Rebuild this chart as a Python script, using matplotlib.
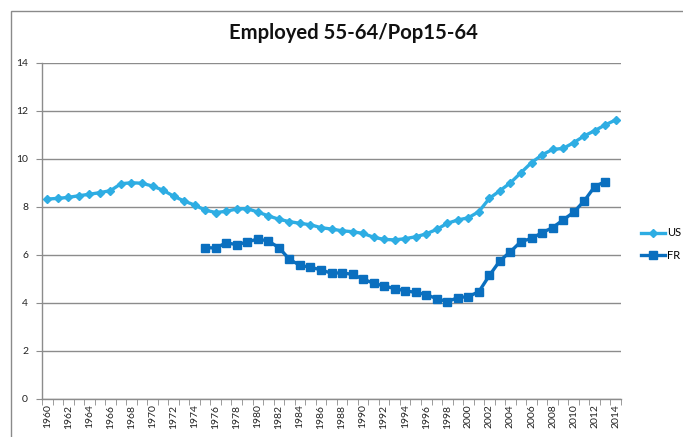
import matplotlib
matplotlib.use("Agg")
import matplotlib.pyplot as plt
from matplotlib.lines import Line2D
from matplotlib.patches import Rectangle

years = list(range(1960, 2015))
us_values = [8.33, 8.36, 8.40, 8.47, 8.53, 8.60, 8.68, 8.97, 9.01, 8.99,
             8.87, 8.70, 8.45, 8.25, 8.08, 7.87, 7.77, 7.82, 7.92, 7.93,
             7.79, 7.63, 7.49, 7.39, 7.32, 7.26, 7.14, 7.08, 7.01, 6.97,
             6.90, 6.74, 6.65, 6.63, 6.68, 6.76, 6.88, 7.07, 7.32, 7.46,
             7.55, 7.81, 8.36, 8.68, 9.01, 9.43, 9.85, 10.17, 10.40, 10.44,
             10.68, 10.96, 11.18, 11.42, 11.63]
fr_start = 1975
fr_values = [6.31, 6.29, 6.51, 6.43, 6.54,
             6.67, 6.58, 6.31, 5.82, 5.57, 5.49, 5.38, 5.24, 5.26, 5.19,
             5.00, 4.82, 4.71, 4.60, 4.51, 4.44, 4.35, 4.18, 4.06, 4.22,
             4.27, 4.47, 5.15, 5.76, 6.14, 6.56, 6.69, 6.93, 7.14, 7.46,
             7.78, 8.25, 8.85, 9.06]
y_ticks = [0, 2, 4, 6, 8, 10, 12, 14]
title = "Employed 55-64/Pop15-64"

US_COLOR = "#2EADE3"
FR_COLOR = "#0A6FBF"
GRID = "#8C8C8C"

plt.rcParams["font.family"] = ["Lato", "DejaVu Sans"]

W, H = 683, 437
fig = plt.figure(figsize=(W / 100, H / 100), dpi=100)
fig.patch.set_facecolor("white")

# chart frame
fig.add_artist(Rectangle((11 / W, -0.1), 1.2, 1 - 11 / H + 0.1,
                         transform=fig.transFigure, fill=False,
                         edgecolor="#8A8A8A", linewidth=1.0))

left, right, top, bottom = 42, 621, 63, 399
ax = fig.add_axes([left / W, 1 - bottom / H, (right - left) / W, (bottom - top) / H])

x_us = list(range(len(years)))
x_fr = [years.index(fr_start) + i for i in range(len(fr_values))]

ax.plot(x_us, us_values, color=US_COLOR, lw=2.4, marker="D", ms=4.2,
        mec=US_COLOR, mfc=US_COLOR, zorder=3)
ax.plot(x_fr, fr_values, color=FR_COLOR, lw=2.4, marker="s", ms=6.0,
        mec=FR_COLOR, mfc=FR_COLOR, zorder=3)

ax.set_xlim(-0.5, len(years) - 0.5)
ax.set_ylim(0, 14)
ax.set_yticks(y_ticks)
ax.set_yticklabels([str(v) for v in y_ticks], fontsize=7.5, color="#222222")
ax.yaxis.grid(True, color=GRID, lw=1.0)
ax.set_axisbelow(True)

# category labels every other year, tick marks between categories
ax.set_xticks(x_us[::2])
ax.set_xticklabels([str(y) for y in years[::2]], rotation=90, fontsize=7.5,
                   color="#222222")
ax.tick_params(axis="x", length=0, pad=4)
ax.set_xticks([i - 0.5 for i in range(len(years) + 1)], minor=True)
ax.tick_params(axis="x", which="minor", length=4, color=GRID, direction="out")
ax.tick_params(axis="y", length=4, color=GRID, direction="out", pad=6)

for side in ("top", "right"):
    ax.spines[side].set_visible(False)
for side in ("left", "bottom"):
    ax.spines[side].set_color(GRID)
    ax.spines[side].set_linewidth(1.0)

fig.text(353 / W, 1 - 33 / H, title, ha="center", va="center",
         fontsize=14.6, fontweight="bold", color="#111111")

handles = [Line2D([], [], color=US_COLOR, lw=2.4, marker="D", ms=4.2),
           Line2D([], [], color=FR_COLOR, lw=2.4, marker="s", ms=6.0)]
fig.legend(handles, ["US", "FR"], loc="center left",
           bbox_to_anchor=(631 / W, 1 - 244 / H), frameon=False,
           fontsize=8, handlelength=2.2, handletextpad=0.15, labelspacing=1.0)

fig.savefig("out.png", dpi=100, facecolor="white")
